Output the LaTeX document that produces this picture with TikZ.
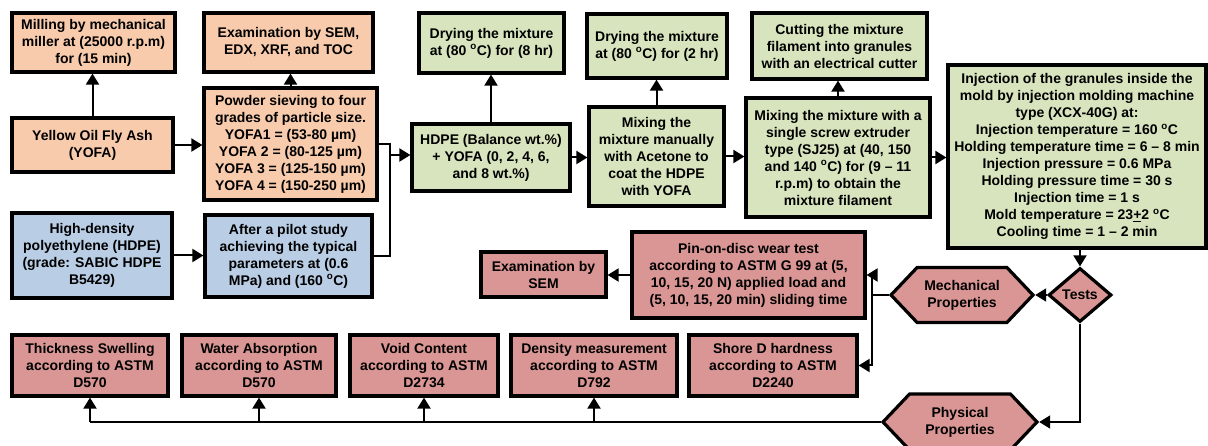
\documentclass[tikz,border=0pt]{standalone}
\usepackage{fontspec}
\setmainfont{Liberation Sans}
\usetikzlibrary{arrows.meta,shapes.geometric,shapes.symbols}
\definecolor{cor}{HTML}{F8CBAD}
\definecolor{cgr}{HTML}{D7E4BD}
\definecolor{cbl}{HTML}{B9CDE5}
\definecolor{crd}{HTML}{D99694}
\tikzset{
  base/.style={draw=black, line width=3.2pt, align=center, inner sep=0pt,
    font=\fontsize{14}{17}\selectfont\bfseries},
  ob/.style={base, fill=cor},
  gb/.style={base, fill=cgr},
  bb/.style={base, fill=cbl},
  rb/.style={base, fill=crd},
  arr/.style={line width=2pt, -{Triangle[length=11pt,width=13pt]}},
  ln/.style={line width=2pt},
}
\newcommand\bx[7]{%
  \pgfmathsetmacro\bxw{#4-#2}\pgfmathsetmacro\bxh{#5-#3}%
  \node[#6, minimum width=\bxw pt, minimum height=\bxh pt] (#1) at ({(#2+#4)/2},{(#3+#5)/2}) {#7};}
\newcommand\dg{\textsuperscript{o}C}
\begin{document}
\begin{tikzpicture}[x=1pt,y=-1pt]
\useasboundingbox (0,0) rectangle (1208,446);
% top-left (orange)
\bx{mill}{12}{13}{175}{72}{ob}{Milling by mechanical\\miller at (25000 r.p.m)\\for (15 min)}
\bx{exam}{204}{13}{373}{72}{ob}{Examination by SEM,\\EDX, XRF, and TOC}
\bx{yofa}{12}{118}{173}{172}{ob}{Yellow Oil Fly Ash\\(YOFA)}
\bx{powder}{204}{88}{377}{200}{ob}{Powder sieving to four\\grades of particle size.\\YOFA1 = (53-80 µm)\\YOFA 2 = (80-125 µm)\\YOFA 3 = (125-150 µm)\\YOFA 4 = (150-250 µm)}
% blue
\bx{hdpe}{12}{213}{172}{298}{bb}{High-density\\polyethylene (HDPE)\\(grade: SABIC HDPE\\B5429)}
\bx{pilot}{205}{215}{372}{297}{bb}{After a pilot study\\achieving the typical\\parameters at (0.6\\MPa) and (160 \dg)}
% green
\bx{hb}{412}{124}{570}{191}{gb}{HDPE (Balance wt.\%)\\+ YOFA (0, 2, 4, 6,\\and 8 wt.\%)}
\bx{dry8}{419}{13}{564}{73}{gb}{Drying the mixture\\at (80 \dg) for (8 hr)}
\bx{dry2}{587}{14}{727}{78}{gb}{Drying the mixture\\at (80 \dg) for (2 hr)}
\bx{man}{589}{107}{724}{206}{gb}{Mixing the\\mixture manually\\with Acetone to\\coat the HDPE\\with YOFA}
\bx{cut}{752}{13}{927}{79}{gb}{Cutting the mixture\\filament into granules\\with an electrical cutter}
\bx{extr}{746}{98}{930}{217}{gb}{Mixing the mixture with a\\single screw extruder\\type (SJ25) at (40, 150\\and 140 \dg) for (9 -- 11\\r.p.m) to obtain the\\mixture filament}
\bx{inj}{948}{65}{1206}{248}{gb}{Injection of the granules inside the\\mold by injection molding machine\\type (XCX-40G) at:\\Injection temperature = 160 \dg\\Holding temperature time = 6 -- 8 min\\Injection pressure = 0.6 MPa\\Holding pressure time = 30 s\\Injection time = 1 s\\Mold temperature = 23\underline{+}2 \dg\\Cooling time = 1 -- 2 min}
% red
\bx{pin}{632}{232}{865}{318}{rb}{Pin-on-disc wear test\\according to ASTM G 99 at (5,\\10, 15, 20 N) applied load and\\(5, 10, 15, 20 min) sliding time}
\bx{semb}{481}{252}{606}{297}{rb}{Examination by\\SEM}
\bx{thick}{12}{335}{168}{396}{rb}{Thickness Swelling\\according to ASTM\\D570}
\bx{water}{182}{335}{336}{396}{rb}{Water Absorption\\according to ASTM\\D570}
\bx{void}{350}{335}{498}{396}{rb}{Void Content\\according to ASTM\\D2734}
\bx{dens}{511}{335}{677}{396}{rb}{Density measurement\\according to ASTM\\D792}
\bx{shore}{689}{335}{857}{396}{rb}{Shore D hardness\\according to ASTM\\D2240}
\node[rb, diamond, minimum width=63pt, minimum height=54pt] (tests) at (1080,295) {Tests};
\node[rb, signal, signal to=east and west, signal pointer angle=93, minimum width=142pt, minimum height=55pt] (mech) at (962,295) {Mechanical\\Properties};
\node[rb, signal, signal to=east and west, signal pointer angle=93, minimum width=154pt, minimum height=56pt] (phys) at (960,422) {Physical\\Properties};
% connectors
\draw[arr] (yofa.north) -- (yofa.north |- mill.south);
\draw[arr] (yofa.east) -- (yofa.east -| powder.west);
\draw[arr] (powder.north) -- (powder.north |- exam.south);
\draw[arr] (hdpe.east) -- (hdpe.east -| pilot.west);
\coordinate (j) at (390,155);
\draw[ln] (powder.east) -- (powder.east -| j) -- (j |- pilot.east) -- (pilot.east);
\draw[arr] (j) -- (j -| hb.west);
\draw[arr] (hb.north) -- (hb.north |- dry8.south);
\draw[arr] (hb.east) -- (hb.east -| man.west);
\draw[arr] (man.north) -- (man.north |- dry2.south);
\draw[arr] (man.east) -- (man.east -| extr.west);
\draw[arr] (extr.north) -- (extr.north |- cut.south);
\draw[arr] (extr.east) -- (extr.east -| inj.west);
\draw[arr] (tests.north |- inj.south) -- (tests.north);
\draw[arr] (tests.west) -- (mech.east);
\draw[arr] (tests.south) -- (tests.south |- phys.east) -- (phys.east);
\coordinate (k) at (872,295);
\draw[ln] (mech.west) -- (k);
\draw[arr] (k) -- (k |- pin.east) -- (pin.east);
\draw[arr] (k) -- (k |- shore.east) -- (shore.east);
\draw[arr] (pin.west) -- (pin.west -| semb.east);
\draw[ln] (phys.west) -- (phys.west -| thick.south);
\foreach \b in {thick,water,void,dens}
  \draw[arr] (\b.south |- phys.west) -- (\b.south);
\end{tikzpicture}
\end{document}
